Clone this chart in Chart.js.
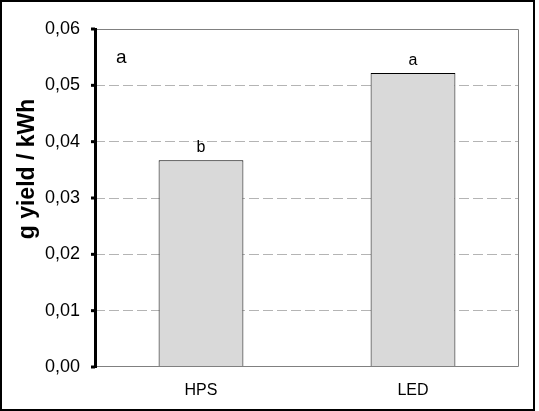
<!DOCTYPE html>
<html>
<head>
<meta charset="utf-8">
<script src="https://cdn.jsdelivr.net/npm/chart.js@4"></script>
<style>
    html, body { margin: 0; padding: 0; background: #fff; }
    canvas { display: block; }
</style>
</head>
<body>
<canvas id="yieldChart" width="539" height="411"></canvas>
<script>
// Values
const categories = ['HPS', 'LED'];
const yieldPerKwh = [0.0367, 0.0522];
const letters = ['b', 'a'];
const panelLabel = 'a';
const axisTitle = 'g yield / kWh';
const yMin = 0;
const yMax = 0.06;
const yStep = 0.01;

const FONT = "'Liberation Sans', Arial, sans-serif";

// Frame, thick left axis, letters and the rotated title
const decorations = {
    id: 'decorations',
    afterDraw(chart) {
        const { ctx, chartArea: area } = chart;
        const yScale = chart.scales.y;
        ctx.save();

        // grey plot frame on top, right and bottom
        ctx.strokeStyle = '#808080';
        ctx.lineWidth = 1;
        ctx.beginPath();
        ctx.moveTo(area.left, area.top + 0.5);
        ctx.lineTo(area.right - 0.5, area.top + 0.5);
        ctx.lineTo(area.right - 0.5, area.bottom - 0.5);
        ctx.lineTo(area.left, area.bottom - 0.5);
        ctx.stroke();

        // thick black y axis with ticks
        ctx.strokeStyle = '#000';
        ctx.lineWidth = 3;
        ctx.beginPath();
        ctx.moveTo(area.left + 0.5, area.top - 1);
        ctx.lineTo(area.left + 0.5, area.bottom + 1);
        ctx.stroke();
        yScale.ticks.forEach(t => {
            const y = yScale.getPixelForValue(t.value);
            ctx.beginPath();
            ctx.moveTo(area.left - 4, y);
            ctx.lineTo(area.left, y);
            ctx.stroke();
        });

        // significance letters above bars
        const meta = chart.getDatasetMeta(0);
        ctx.fillStyle = '#000';
        ctx.font = '16px ' + FONT;
        ctx.textAlign = 'center';
        ctx.textBaseline = 'alphabetic';
        meta.data.forEach((bar, i) => {
            ctx.fillText(letters[i], bar.x, bar.y - 8);
        });

        // panel label
        ctx.font = '19px ' + FONT;
        ctx.textAlign = 'left';
        ctx.fillText(panelLabel, 116, 63);

        // y axis title
        ctx.font = 'bold 23px ' + FONT;
        ctx.textAlign = 'center';
        ctx.textBaseline = 'middle';
        ctx.translate(28, 169);
        ctx.rotate(-Math.PI / 2);
        ctx.fillText(axisTitle, 0, 0);
        ctx.setTransform(1, 0, 0, 1, 0, 0);

        // outer border
        ctx.strokeStyle = '#000';
        ctx.lineWidth = 2;
        ctx.strokeRect(1, 1, 533, 409);
        ctx.restore();
    }
};

new Chart(document.getElementById('yieldChart'), {
    type: 'bar',
    data: {
        labels: categories,
        datasets: [{
            data: yieldPerKwh,
            backgroundColor: '#d9d9d9',
            borderColor: '#000',
            borderWidth: 1,
            barPercentage: 0.4,
            categoryPercentage: 1.0
        }]
    },
    options: {
        responsive: false,
        animation: false,
        devicePixelRatio: 1,
        layout: { padding: { top: 29, right: 20, bottom: 0, left: 0 } },
        plugins: {
            legend: { display: false },
            tooltip: { enabled: false }
        },
        scales: {
            x: {
                grid: { display: false },
                border: { display: false },
                ticks: {
                    color: '#000',
                    padding: 6,
                    font: { family: FONT, size: 16 }
                },
                afterFit(scale) { scale.height = 44; }
            },
            y: {
                min: yMin,
                max: yMax,
                grid: {
                    drawTicks: false,
                    lineWidth: 1,
                    color: c => {
                        const v = c.tick.value;
                        return (Math.abs(v - yMin) < 1e-9 || Math.abs(v - yMax) < 1e-9) ? 'rgba(0,0,0,0)' : '#b4b4b4';
                    }
                },
                border: { display: false, dash: [10, 4] },
                ticks: {
                    stepSize: yStep,
                    color: '#000',
                    padding: 15,
                    font: { family: FONT, size: 18 },
                    callback: v => v.toFixed(2).replace('.', ',')
                },
                afterFit(scale) { scale.width = 95; }
            }
        }
    },
    plugins: [decorations]
});
</script>
</body>
</html>
